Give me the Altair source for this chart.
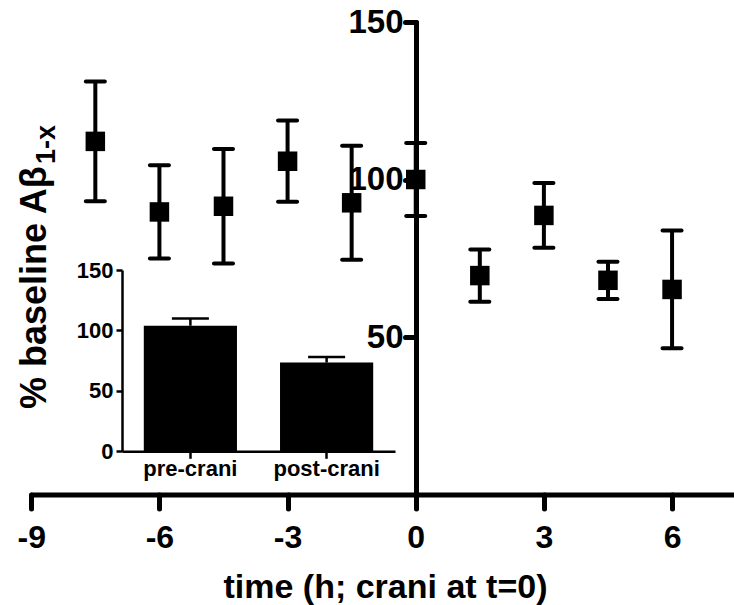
import altair as alt
import pandas as pd

FONT = "Liberation Sans"

# main time course (% baseline, mean and SEM)
times = [-7.5, -6, -4.5, -3, -1.5, 0, 1.5, 3, 4.5, 6]
means = [112.1, 89.7, 91.5, 105.8, 92.6, 100.0, 69.5, 88.6, 68.0, 65.1]
sems = [19.0, 14.8, 18.2, 12.9, 18.1, 11.6, 8.3, 10.3, 5.9, 18.7]
x_ticks = [-9, -6, -3, 0, 3, 6]
y_ticks = [50, 100, 150]

# inset bar chart
groups = ["pre-crani", "post-crani"]
bar_means = [103.9, 73.4]
bar_sems = [6.0, 4.7]
inset_y_ticks = [0, 50, 100, 150]

main_df = pd.DataFrame({"t": times, "m": means, "s": sems})
bar_df = pd.DataFrame({"g": groups, "v": bar_means, "e": bar_sems})

xs = alt.Scale(domain=[-9, 7.45], range=[31.25, 734], nice=False, zero=False)
ys = alt.Scale(domain=[0, 150], range=[494.5, 22], nice=False, zero=False)

x_axis = alt.Axis(
    values=x_ticks, orient="bottom", offset=-110.5,
    labelExpr="(datum.value < 0 ? '-' : '') + abs(datum.value)",
    title="time (h; crani at t=0)", titleFontSize=34, titleBaseline="alphabetic",
    titleY=102.5, titleX=385,
    domainWidth=5, tickWidth=5, tickSize=14, tickCap="round", domainCap="round",
    labelFontSize=32, labelBaseline="alphabetic", labelPadding=38.5,
    labelFlush=False, labelOverlap=False,
)
y_axis = alt.Axis(
    values=y_ticks, orient="left", offset=-416, title=None,
    domainWidth=5, tickWidth=5, tickSize=11, tickCap="round", domainCap="round",
    labelFontSize=33, labelPadding=2, labelFlush=False, labelOverlap=False,
)

base = alt.Chart(main_df).transform_calculate(
    lo="datum.m - datum.s", hi="datum.m + datum.s"
)

err_rule = base.mark_rule(color="black", strokeWidth=4).encode(
    x=alt.X("t:Q", scale=xs, axis=None),
    y=alt.Y("lo:Q", scale=ys, axis=None),
    y2="hi:Q",
)
cap_hi = base.mark_tick(color="black", orient="horizontal", size=23, thickness=4,
                        cornerRadius=2, opacity=1).encode(
    x=alt.X("t:Q", scale=xs, axis=None),
    y=alt.Y("hi:Q", scale=ys, axis=None),
)
cap_lo = base.mark_tick(color="black", orient="horizontal", size=23, thickness=4,
                        cornerRadius=2, opacity=1).encode(
    x=alt.X("t:Q", scale=xs, axis=None),
    y=alt.Y("lo:Q", scale=ys, axis=None),
)
points = base.mark_square(color="black", size=380, opacity=1).encode(
    x=alt.X("t:Q", scale=xs, axis=x_axis),
    y=alt.Y("m:Q", scale=ys, axis=y_axis),
)

# inset
ixs = alt.Scale(domain=groups, range=[122, 395], paddingInner=0.316, paddingOuter=0.16)
iys = alt.Scale(domain=[0, 150], range=[451.3, 270], nice=False, zero=False)

ix_axis = alt.Axis(
    orient="bottom", offset=-153.7, title=None, labelAngle=0,
    domainWidth=2.5, tickWidth=2.5, tickSize=7,
    labelFontSize=22, labelBaseline="alphabetic", labelPadding=16.7,
)
iy_axis = alt.Axis(
    values=inset_y_ticks, orient="left", offset=-122, title=None,
    domainWidth=2.5, tickWidth=2.5, tickSize=6,
    labelFontSize=22, labelPadding=3, labelFlush=False, labelOverlap=False,
)

ibase = alt.Chart(bar_df).transform_calculate(hi="datum.v + datum.e")
bars = ibase.mark_bar(color="black").encode(
    x=alt.X("g:N", scale=ixs, axis=ix_axis, sort=groups),
    y=alt.Y("v:Q", scale=iys, axis=iy_axis),
)
ierr = ibase.mark_rule(color="black", strokeWidth=2.5).encode(
    x=alt.X("g:N", scale=ixs, axis=None, sort=groups),
    y=alt.Y("v:Q", scale=iys, axis=None),
    y2="hi:Q",
)
icap = ibase.mark_tick(color="black", orient="horizontal", size=37, thickness=2.5,
                       opacity=1).encode(
    x=alt.X("g:N", scale=ixs, axis=None, sort=groups),
    y=alt.Y("hi:Q", scale=iys, axis=None),
)

# y title with subscript
ytitle = alt.Chart(pd.DataFrame({"txt": ["% baseline A\u03b2"]})).mark_text(
    font=FONT, fontWeight="bold", fontSize=36, angle=270, align="left",
    baseline="alphabetic", color="black",
).encode(text="txt:N", x=alt.value(46), y=alt.value(409))
ysub = alt.Chart(pd.DataFrame({"txt": ["1-x"]})).mark_text(
    font=FONT, fontWeight="bold", fontSize=27, angle=270, align="left",
    baseline="alphabetic", color="black",
).encode(text="txt:N", x=alt.value(55), y=alt.value(164))

chart = alt.layer(
    err_rule, cap_hi, cap_lo, points, bars, ierr, icap, ytitle, ysub
).resolve_scale(
    x="independent", y="independent"
).properties(
    width=734, height=605, padding=0,
    autosize=alt.AutoSizeParams(type="none"),
).configure_view(stroke=None).configure_axis(
    labelFont=FONT, titleFont=FONT, labelFontWeight="bold", titleFontWeight="bold",
    labelColor="black", titleColor="black", domainColor="black", tickColor="black",
    grid=False,
)

chart.save("out.html", embed_options={"renderer": "svg", "actions": False})
